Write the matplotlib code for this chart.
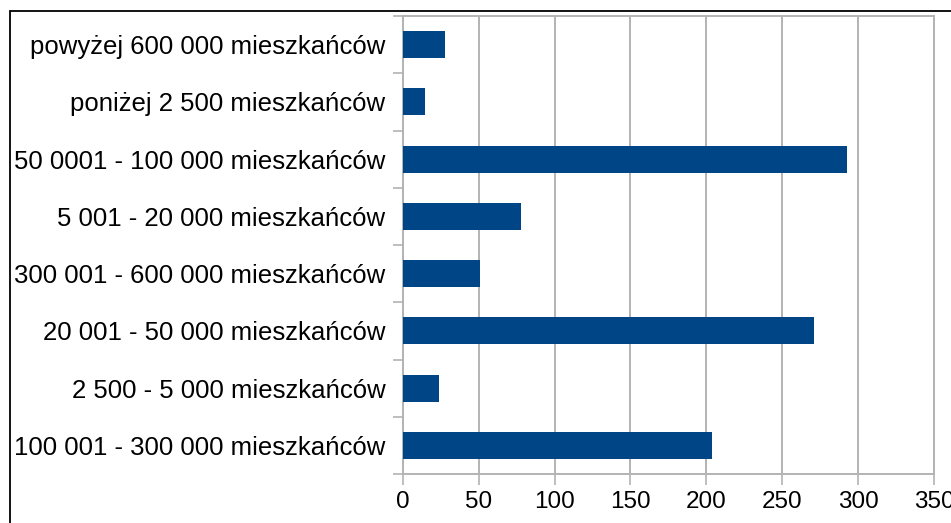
import matplotlib
matplotlib.use('Agg')
import matplotlib.pyplot as plt
from matplotlib.patches import Rectangle
import numpy as np

# categories, top to bottom as in the chart
categories = [
    'powyżej 600 000 mieszkańców',
    'poniżej 2 500 mieszkańców',
    '50 0001 - 100 000 mieszkańców',
    '5 001 - 20 000 mieszkańców',
    '300 001 - 600 000 mieszkańców',
    '20 001 - 50 000 mieszkańców',
    '2 500 - 5 000 mieszkańców',
    '100 001 - 300 000 mieszkańców',
]
values = [28, 15, 293, 78, 51, 271, 24, 204]
x_ticks = [0, 50, 100, 150, 200, 250, 300, 350]

bar_color = '#004586'
grid_color = '#b3b3b3'

plt.rcParams['font.family'] = ['Liberation Sans', 'DejaVu Sans']

fig = plt.figure(figsize=(9.51, 5.23), dpi=100)
ax = fig.add_axes([402.7 / 951, 1 - 474 / 523, (934 - 402.7) / 951, (474 - 16) / 523])

pos = np.arange(len(categories))
ax.barh(pos, values, height=0.47, color=bar_color, zorder=3)

ax.set_xlim(0, 350)
ax.set_ylim(len(categories) - 0.5, -0.5)

ax.set_xticks(x_ticks)
ax.set_xticklabels([str(t) for t in x_ticks], fontsize=17.5)
ax.set_yticks(pos)
ax.set_yticklabels(categories, fontsize=18.5)
ax.set_yticks(np.arange(len(categories) + 1) - 0.5, minor=True)

ax.xaxis.grid(True, color=grid_color, lw=1.4, zorder=0)
ax.tick_params(axis='y', which='major', length=0, pad=12.5)
ax.tick_params(axis='y', which='minor', length=7.2, width=1.2, color=grid_color)
ax.tick_params(axis='x', which='major', length=8, width=1.2, color=grid_color, pad=4)

for s in ax.spines.values():
    s.set_color(grid_color)
    s.set_linewidth(1.4)

# outer frame of the exported chart
fig.patches.append(Rectangle((10 / 951, -0.1), 1.2, 1.1 - 11 / 523,
                             transform=fig.transFigure, fill=False,
                             edgecolor='black', lw=1.3, clip_on=False))

fig.savefig('out.png', dpi=100)
